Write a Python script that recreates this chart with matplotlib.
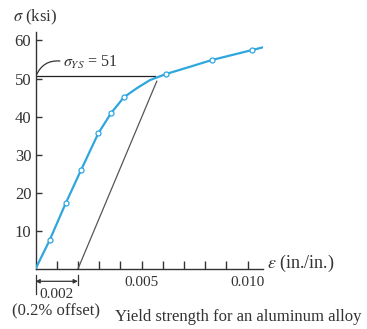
import matplotlib
matplotlib.use("Agg")
import matplotlib.pyplot as plt
import matplotlib.transforms as mtransforms

plt.rcParams['font.family'] = ['Liberation Serif', 'DejaVu Serif']
plt.rcParams['mathtext.fontset'] = 'stix'

# ---- data ----
marker_strain = [0.00067, 0.00142, 0.00215, 0.00296, 0.00356, 0.00417, 0.00616, 0.00834, 0.01023]
marker_stress = [7.6, 17.2, 26.0, 35.6, 40.9, 45.1, 51.2, 54.9, 57.5]
curve_strain = [0.0, 0.00067, 0.00142, 0.00215, 0.00296, 0.00356, 0.00417, 0.00479, 0.0054,
                0.00616, 0.00729, 0.00834, 0.01023, 0.01073]
curve_stress = [0.0, 7.6, 17.2, 26.0, 35.6, 40.9, 45.1, 47.5, 49.6,
                51.2, 53.1, 54.9, 57.5, 58.2]
offset_strain = 0.002
offset_line_strain = [0.002, 0.00572]
offset_line_stress = [0.0, 49.3]
yield_line_strain = [0.0, 0.00564]
yield_line_stress = [50.6, 50.6]
yield_label = r'$\sigma_{YS}$ = 51'
yticks = [10, 20, 30, 40, 50, 60]
xticks = [0.001, 0.002, 0.003, 0.004, 0.005, 0.006, 0.007, 0.008, 0.009, 0.010]
xtick_labels = ['', '', '', '', '0.005', '', '', '', '', '0.010']

W, H = 367, 329
fig = plt.figure(figsize=(W / 100, H / 100), dpi=100)
x0, x1, ytop, ybot = 35.5, 263, 31.7, 269
ax = fig.add_axes([x0 / W, (H - ybot) / H, (x1 - x0) / W, (ybot - ytop) / H])
ax.set_xlim(0, 0.01073)
ax.set_ylim(0, 62.3)

blue = '#2ea6de'
txt = '#333333'

ax.plot(curve_strain, curve_stress, color=blue, lw=1.6, zorder=3, solid_capstyle='round')
ax.plot(marker_strain, marker_stress, ls='none', marker='o', ms=3.6, mfc='white',
        mec=blue, mew=0.9, zorder=4)
ax.plot(yield_line_strain, yield_line_stress, color='#222222', lw=0.9, zorder=2)
ax.plot(offset_line_strain, offset_line_stress, color='#555555', lw=0.9, zorder=2)

for s in ['top', 'right']:
    ax.spines[s].set_visible(False)
for s in ['left', 'bottom']:
    ax.spines[s].set_color('#333333')
    ax.spines[s].set_linewidth(1.0)

ax.set_yticks(yticks)
ax.set_yticklabels([str(v) for v in yticks])
ax.set_xticks(xticks)
ax.set_xticklabels(xtick_labels)
ax.tick_params(axis='y', direction='in', length=4, width=1, color='#333333',
               labelsize=12, labelcolor=txt, pad=3)
ax.tick_params(axis='x', direction='in', length=5.5, width=1, color='#333333',
               labelsize=11, labelcolor=txt, pad=5)

def fy(py):
    return (H - py) / H

# axis labels
fig.text(35.5 / W, fy(17), r'$\sigma$ (ksi)', ha='center', va='center', fontsize=12, color=txt)
fig.text(267 / W, fy(263), r'$\epsilon$ (in./in.)', ha='left', va='center', fontsize=13, color=txt)

# yield annotation
ax.text(0.00128, 54.3, yield_label, ha='left', va='center', fontsize=11.5, color=txt)
ax.annotate('', xy=(0.00005, 51.0), xytext=(0.00115, 54.6),
            arrowprops=dict(arrowstyle='-', color='#333333', lw=0.9,
                            connectionstyle='arc3,rad=0.35', shrinkA=0, shrinkB=0))

# offset dimension below axis
bt = mtransforms.blended_transform_factory(ax.transData, fig.transFigure)
ax.annotate('', xy=(0.0, fy(281.3)), xytext=(offset_strain, fy(281.3)), xycoords=bt, textcoords=bt,
            arrowprops=dict(arrowstyle='<|-|>', color='#333333', lw=0.9, mutation_scale=6,
                            shrinkA=0, shrinkB=0), annotation_clip=False)
ax.plot([0.0, 0.0], [fy(275), fy(294)], transform=bt, color='#333333', lw=0.9, clip_on=False)
ax.plot([offset_strain, offset_strain], [fy(275), fy(285)], transform=bt, color='#333333',
        lw=0.9, clip_on=False)
ax.text(offset_strain / 2, fy(295), '0.002', transform=bt, ha='center', va='center',
        fontsize=11, color=txt)
fig.text(56 / W, fy(311.5), '(0.2% offset)', ha='center', va='center', fontsize=12, color=txt)
fig.text(115 / W, fy(317), 'Yield strength for an aluminum alloy', ha='left', va='center',
         fontsize=12, color=txt)

fig.savefig('out.png', dpi=100)
